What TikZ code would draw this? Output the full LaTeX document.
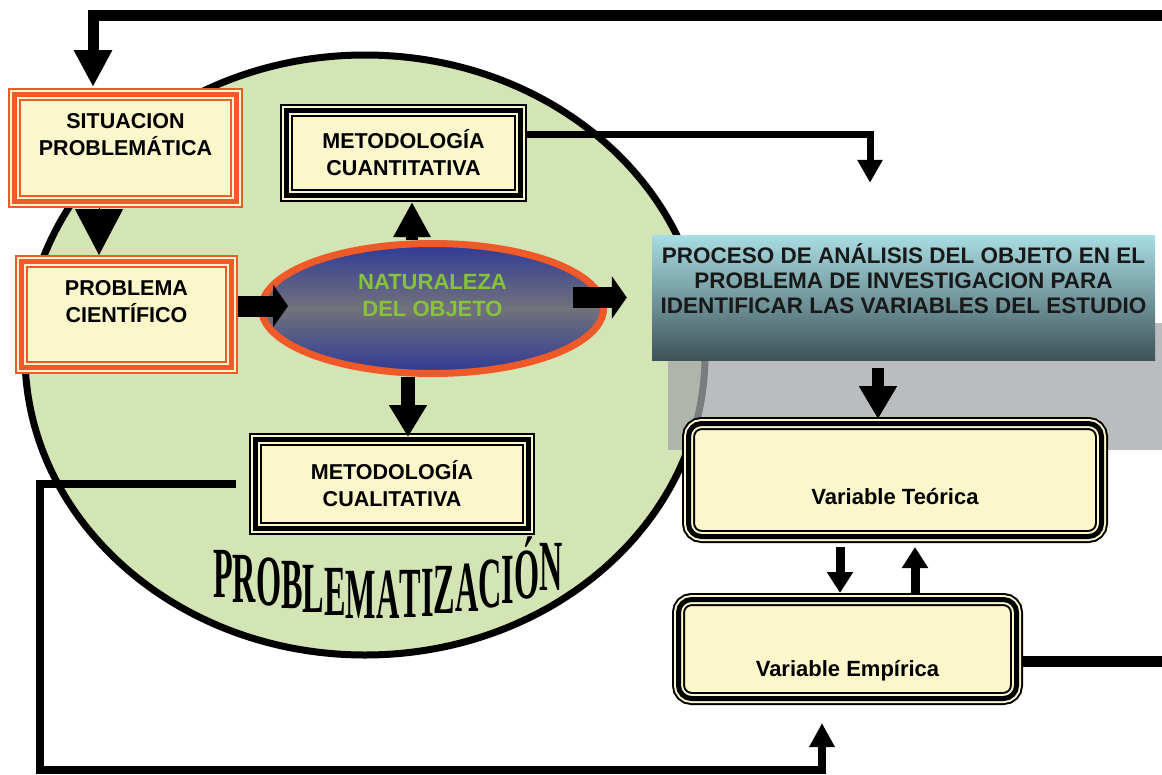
\documentclass[tikz,border=0pt]{standalone}
\usepackage{fontspec}
\newfontfamily\boxfont{Liberation Sans}
\newfontfamily\problfont{Liberation Serif}[FakeStretch=0.448]
\usetikzlibrary{arrows.meta,calc,shapes.geometric}

\definecolor{circgreen}{HTML}{D3E4B5}
\definecolor{cream}{HTML}{FBF7CA}
\definecolor{redorange}{HTML}{F05A28}
\definecolor{natblue}{HTML}{2E3A96}
\definecolor{natgray}{HTML}{72727B}
\definecolor{natgreen}{HTML}{86C23A}
\definecolor{proctop}{HTML}{A8DDE3}
\definecolor{procbot}{HTML}{3E5358}
\definecolor{shadowgray}{HTML}{A3A6A8}

% one letter, sunk below the base line
\newcommand\sunk[2]{\raisebox{-#1pt}{#2}}

\tikzset{
	tribox/.style={draw=#1, line width=13pt, outer sep=6.5pt, fill=cream, inner sep=0pt,
		postaction={draw=cream, line width=9pt}, postaction={draw=#1, line width=5pt},
		font=\boxfont\bfseries\fontsize{21.5}{27}\selectfont},
	varbox/.style={tribox=black, rounded corners=13pt, font=\boxfont\bfseries\fontsize{22}{27}\selectfont},
	natnode/.style={ellipse, draw=redorange, line width=7pt, outer sep=3.5pt, inner sep=0pt,
		top color=natblue, bottom color=natblue, middle color=natgray, text=natgreen,
		minimum width=342pt, minimum height=130pt, align=center,
		font=\boxfont\bfseries\fontsize{22}{27}\selectfont},
	procnode/.style={rectangle, top color=proctop, bottom color=procbot, inner sep=0pt,
		minimum width=503pt, minimum height=125pt, align=center, text=black!90,
		font=\boxfont\bfseries\fontsize{22.5}{25}\selectfont},
	fatarrow/.style={line width=21pt, -{Triangle[width=42pt,length=15pt]}},
	probl/.style={anchor=base west, inner sep=0pt, font=\problfont\bfseries\fontsize{72}{72}\selectfont}
}

\begin{document}
\begin{tikzpicture}[x=1pt,y=-1pt]
			%%%%% START %%%%%
			\useasboundingbox (0,0) rectangle (1162,774);
			
			\draw[line width=7pt, fill=circgreen] (365,355) ellipse [x radius=340, y radius=300];
			\fill[shadowgray, fill opacity=0.75] (668,323) rectangle (1185,450);
			
			\node[probl] (probtxt) at (213,590) {\sunk{7}{P}\sunk{12}{R}\sunk{15}{O}\sunk{18}{B}\sunk{22}{L}\sunk{25}{E}\sunk{28}{M}\sunk{28}{A}\sunk{27}{T}\sunk{26}{I}\sunk{23}{Z}\sunk{21}{A}\sunk{17}{C}\sunk{13}{I}\sunk{8}{Ó}\sunk{0}{N}};
			
			\node[tribox=redorange, minimum width=222pt, minimum height=107pt, align=center] (sit) at (125.5,148) {SITUACION\\PROBLEMÁTICA\\\mbox{}};
			\node[tribox=redorange, minimum width=210pt, minimum height=106pt, align=center] (prob) at (126.5,314.5) {PROBLEMA\\CIENTÍFICO\\\mbox{}};
			\node[tribox=black, minimum width=234pt, minimum height=85pt, align=center] (cuant) at (403.5,153) {METODOLOGÍA\\CUANTITATIVA};
			\node[tribox=black, minimum width=273pt, minimum height=89pt, align=center] (cual) at (392,484) {METODOLOGÍA\\CUALITATIVA};
			\node[natnode] (nat) at (432.5,308.5) {NATURALEZA\\DEL OBJETO\\\mbox{}};
			\node[procnode] (proc) at (903.5,297.5) {PROCESO DE ANÁLISIS DEL OBJETO EN EL\\PROBLEMA DE INVESTIGACION PARA\\IDENTIFICAR LAS VARIABLES DEL ESTUDIO\\[13pt]\mbox{}};
			\node[varbox, minimum width=413pt, minimum height=113pt, text height=48pt, text depth=0pt] (teo) at (895,480) {Variable Teórica};
			\node[varbox, minimum width=338pt, minimum height=99pt, text height=54pt, text depth=0pt] (emp) at (847.5,649) {Variable Empírica};
			
			\coordinate (botleft) at (40,770);
			\coordinate (topright) at (1185,15);
			
			% arrows
			\draw[line width=1pt, -{Triangle[width=48pt,length=46pt]}] ([xshift=-26.5pt]sit.south) -- ([xshift=-27.5pt]prob.north);
			\draw[fatarrow] ([yshift=8.5pt]prob.east) -- ([shift={(30pt,2.5pt)}]nat.west);
			\draw[fatarrow] ([shift={(-34pt,11pt)}]nat.east) -- ([xshift=-25pt]proc.west);
			\draw[line width=12pt, -{Triangle[width=35pt,length=35pt]}] ([xshift=-20.5pt]nat.north) -- ([xshift=8.5pt]cuant.south);
			\draw[line width=14pt, -{Triangle[width=36pt,length=32pt]}, shorten >=-4pt] ([xshift=-24.5pt]nat.south) -- ([xshift=16pt]cual.north);
			\draw[line width=7pt, -{Triangle[width=24pt,length=23pt]}, shorten >=52pt] ([yshift=19pt]cuant.east) -| ([xshift=-33.5pt]proc.north);
			\draw[line width=12pt, -{Triangle[width=36pt,length=33pt]}, shorten <=8pt, shorten >=-2pt] ([xshift=-25.5pt]proc.south) -- ([xshift=-17pt]teo.north);
			\draw[line width=9pt, -{Triangle[width=25pt,length=21pt]}, shorten <=4pt] ([xshift=-55pt]teo.south) -- ([xshift=-7.5pt]emp.north);
			\draw[line width=9pt, -{Triangle[width=25pt,length=21pt]}, shorten >=4pt] ([xshift=67.5pt]emp.north) -- ([xshift=20pt]teo.south);
			
			% loops
			\draw[line width=8pt, -{Triangle[width=24pt,length=24pt]}, shorten <=13pt, shorten >=18pt] (cual.west) -| (botleft) -| ([xshift=-25.5pt]emp.south);
			\draw[line width=11pt, -{Triangle[width=36pt,length=37pt]}, shorten >=1pt] ([yshift=-12pt]emp.east) -| (topright) -| ([xshift=-32.5pt]sit.north);
			
			%%%%% END %%%%%
\end{tikzpicture}
\end{document}
